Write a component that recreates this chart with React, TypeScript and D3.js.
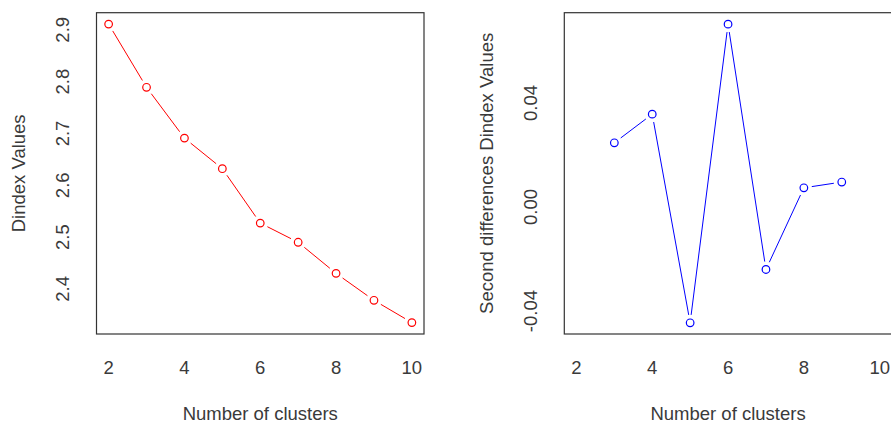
import React from 'react'
import { scaleLinear } from 'd3'

// values
const clusters = [2, 3, 4, 5, 6, 7, 8, 9, 10]
const dindex = [2.911, 2.789, 2.691, 2.632, 2.527, 2.49, 2.43, 2.378, 2.335]
const diffClusters = [3, 4, 5, 6, 7, 8, 9]
const secondDiff = [0.0247, 0.0357, -0.0445, 0.0703, -0.024, 0.0074, 0.0096]
const xTicks = [2, 4, 6, 8, 10]
const yTicksLeft = [2.4, 2.5, 2.6, 2.7, 2.8, 2.9]
const yTicksRight = [-0.04, 0, 0.04]

const W = 891, H = 425
const font = 'Liberation Sans, Arial, sans-serif'
const textCol = '#3a3a3a'
const fs = 18.5

function Panel({ left, xs, ys, yDomain, yTicks, fmt, color, yTitle }) {
  const top = 12.7, bottom = 334
  const width = 327.5
  const x = scaleLinear().domain([1.68, 10.32]).range([left, left + width])
  const y = scaleLinear().domain(yDomain).range([bottom, top])
  const pts = xs.map((d, i) => ({ x: x(d), y: y(ys[i]) }))
  // R type="b": segments stop short of the points
  const gap = 8
  const segs = []
  for (let i = 0; i < pts.length - 1; i++) {
    const a = pts[i], b = pts[i + 1]
    const dx = b.x - a.x, dy = b.y - a.y
    const len = Math.sqrt(dx * dx + dy * dy)
    if (len <= gap * 2) continue
    const ux = dx / len, uy = dy / len
    segs.push([a.x + ux * gap, a.y + uy * gap, b.x - ux * gap, b.y - uy * gap])
  }
  const labX = left - 33.5
  const titleX = left - 78
  return (
    <g>
      <rect x={left} y={top} width={width} height={bottom - top} fill="none" stroke="#333" strokeWidth={1.2} />
      {segs.map((s, i) => (
        <line key={i} x1={s[0]} y1={s[1]} x2={s[2]} y2={s[3]} stroke={color} strokeWidth={1} />
      ))}
      {pts.map((p, i) => (
        <circle key={i} cx={p.x} cy={p.y} r={3.8} fill="none" stroke={color} strokeWidth={1.2} />
      ))}
      {xTicks.map(t => (
        <text key={t} x={x(t)} y={368} dy="0.35em" textAnchor="middle" fontSize={fs} fontFamily={font} fill={textCol}>{t}</text>
      ))}
      {yTicks.map(t => (
        <text key={t} transform={`translate(${labX},${y(t)}) rotate(-90)`} dy="0.35em" textAnchor="middle" fontSize={fs} fontFamily={font} fill={textCol}>{fmt(t)}</text>
      ))}
      <text x={x(6)} y={414} dy="0.35em" textAnchor="middle" fontSize={fs} fontFamily={font} fill={textCol}>Number of clusters</text>
      <text transform={`translate(${titleX},${(top + bottom) / 2}) rotate(-90)`} dy="0.35em" textAnchor="middle" fontSize={fs} fontFamily={font} fill={textCol}>{yTitle}</text>
    </g>
  )
}

export default function App() {
  return (
    <svg width={W} height={H} style={{ position: 'absolute', left: 0, top: 0, background: '#fff' }}>
      <Panel left={96.5} xs={clusters} ys={dindex} yDomain={[2.313, 2.933]} yTicks={yTicksLeft}
        fmt={d => d.toFixed(1)} color="#ff0000" yTitle="Dindex Values" />
      <Panel left={564.3} xs={diffClusters} ys={secondDiff} yDomain={[-0.0488, 0.0747]} yTicks={yTicksRight}
        fmt={d => d.toFixed(2)} color="#0000ff" yTitle="Second differences Dindex Values" />
    </svg>
  )
}
